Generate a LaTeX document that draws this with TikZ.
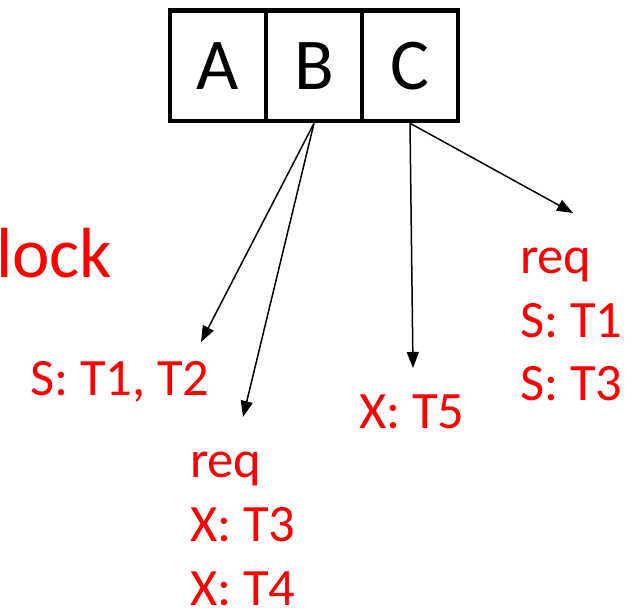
\documentclass[tikz,border=0pt]{standalone}
\usepackage{fontspec}
\setmainfont{Carlito}
\usetikzlibrary{arrows.meta}
\begin{document}
\begin{tikzpicture}[x=1pt,y=-1pt,
  cell/.style={draw, line width=4.5pt, minimum width=96pt, minimum height=110.5pt, inner sep=0pt, font=\fontsize{73}{80}\selectfont},
  lbl/.style={text=red, anchor=base west, inner sep=0pt, font=\fontsize{52.5}{64}\selectfont},
  big/.style={text=red, anchor=base west, inner sep=0pt, font=\fontsize{71}{80}\selectfont},
  arr/.style={line width=1.5pt, -{Triangle[length=16pt,width=12pt]}}]
\useasboundingbox (0,0) rectangle (641,608);
\node[cell] (A) at (218,65.75) {A};
\node[cell] (B) at (314,65.75) {B};
\node[cell] (C) at (410,65.75) {C};
\node[big] (lock) at (-4,277) {lock};
\node[lbl] (s12) at (30,395) {S: T1, T2};
\node[lbl] (breq) at (190,477) {req};
\node[lbl] (bx3) at (190,541) {X: T3};
\node[lbl] (bx4) at (190,605) {X: T4};
\node[lbl] (x5) at (359,428) {X: T5};
\node[lbl] (creq) at (520,273) {req};
\node[lbl] (cs1) at (520,337) {S: T1};
\node[lbl] (cs3) at (520,400) {S: T3};
\coordinate (t1) at (201,342);
\coordinate (t2) at (243,417);
\coordinate (t3) at (413,368);
\coordinate (t4) at (573,213);
\draw[arr] (B.south) -- (t1);
\draw[arr] (B.south) -- (t2);
\draw[arr] (C.south) -- (t3);
\draw[arr] (C.south) -- (t4);
\end{tikzpicture}
\end{document}
